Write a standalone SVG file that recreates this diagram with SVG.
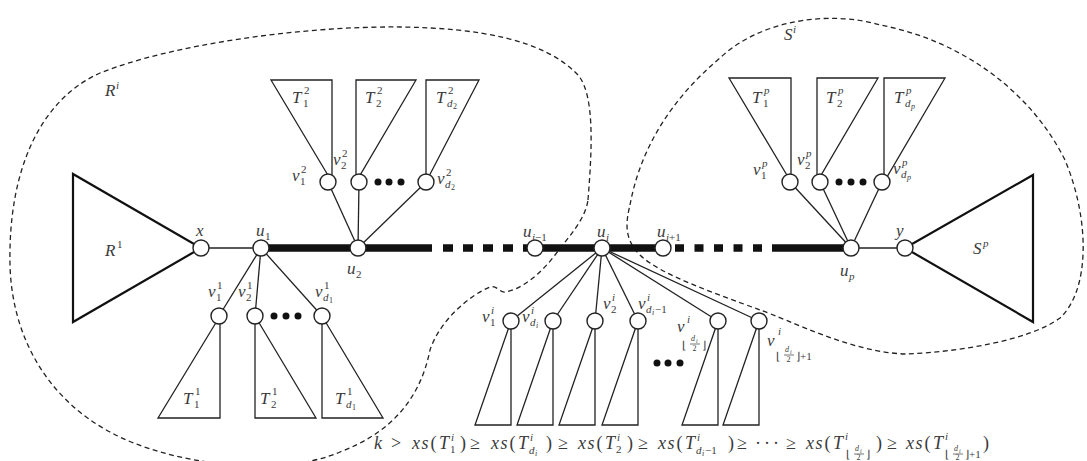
<svg xmlns="http://www.w3.org/2000/svg" width="1087" height="461" viewBox="0 0 1087 461">
<style>
.bg{fill:#fff}
.dash{fill:none;stroke:#222;stroke-width:1.3;stroke-dasharray:5 3.5}
.e{stroke:#222;stroke-width:1.3;fill:none}
.thick{stroke:#111;stroke-width:7.5;fill:none}
.sq{stroke:#111;stroke-width:7.5;fill:none}
.tri{fill:none;stroke:#222;stroke-width:1.3;stroke-linejoin:miter}
.big{fill:none;stroke:#111;stroke-width:2.2;stroke-linejoin:miter}
.nd{fill:#fff;stroke:#222;stroke-width:1.4}
.dot{fill:#111}
.lb{font-family:"Liberation Serif","Times New Roman",serif;fill:#3a3a3a;font-style:italic}
.m{font-size:17px}
.f{font-size:18px}
.s{font-size:11px}
.ss{font-size:8px}
.xs{font-size:6px}
.up{font-style:normal}
.bar{stroke:#3a3a3a;stroke-width:0.7}
</style>
<rect class="bg" x="0" y="0" width="1087" height="461"/>

<g id="regions">
<path id="region-Ri" class="dash" d="M 588,200 C 592,150 595,95 578,75 C 545,40 480,28 400,27 C 300,26 170,45 100,73 C 40,100 8,170 10,265 C 12,340 50,400 110,432 C 170,465 280,478 340,452 C 390,433 420,400 430,350 C 440,320 470,295 490,287 C 497,285 500,293 505,292 C 520,290 540,275 555,255 C 570,235 585,220 588,200 Z"/>
<path id="region-Si" class="dash" d="M 630,205 C 640,150 670,100 720,58 C 760,20 830,10 880,25 C 960,40 1030,90 1065,160 C 1090,220 1090,290 1060,318 C 1030,340 960,352 905,354 C 850,352 790,320 760,310 C 720,295 660,275 640,255 C 625,240 625,225 630,205 Z"/>
<text class="lb m" x="105" y="96">R<tspan class="s" x="116" y="89">i</tspan></text>
<text class="lb m" x="784" y="40">S<tspan class="s" x="793" y="33">i</tspan></text>
</g>

<g id="connectors">
<line class="e" x1="201" y1="248" x2="261" y2="248"/>
<line class="e" x1="851" y1="248" x2="905" y2="248"/>
<line class="thick" x1="261" y1="248" x2="432" y2="248"/>
<line class="sq" x1="443" y1="248" x2="535" y2="248" stroke-dasharray="10 10"/>
<line class="thick" x1="535" y1="248" x2="663" y2="248"/>
<line class="sq" x1="675" y1="248" x2="763" y2="248" stroke-dasharray="9 10.5"/>
<line class="thick" x1="772" y1="248" x2="851" y2="248"/>
<line class="e" x1="261" y1="248" x2="219" y2="316"/>
<line class="e" x1="261" y1="248" x2="255" y2="316"/>
<line class="e" x1="261" y1="248" x2="322" y2="316"/>
<line class="e" x1="358" y1="248" x2="328" y2="182"/>
<line class="e" x1="358" y1="248" x2="359" y2="182"/>
<line class="e" x1="358" y1="248" x2="426" y2="182"/>
<line class="e" x1="851" y1="248" x2="790" y2="182"/>
<line class="e" x1="851" y1="248" x2="820" y2="182"/>
<line class="e" x1="851" y1="248" x2="882" y2="182"/>
<line class="e" x1="602" y1="248" x2="511" y2="321"/>
<line class="e" x1="602" y1="248" x2="553" y2="321"/>
<line class="e" x1="602" y1="248" x2="595" y2="321"/>
<line class="e" x1="602" y1="248" x2="638" y2="321"/>
<line class="e" x1="602" y1="248" x2="718" y2="321"/>
<line class="e" x1="602" y1="248" x2="759" y2="321"/>
</g>

<g id="R1">
<polygon class="big" points="73,174 73,322 201,248"/>
<text class="lb m" x="105" y="256">R<tspan class="s up" x="117" y="248">1</tspan></text>
</g>
<g id="Sp">
<polygon class="big" points="1033,175 1033,322 905,248"/>
<text class="lb m" x="973" y="254">S<tspan class="s" x="983" y="247">p</tspan></text>
</g>

<g id="subtrees">
<polygon class="tri" points="220,316 220,418 158,418"/>
<polygon class="tri" points="255,316 255,418 316,418"/>
<polygon class="tri" points="322,316 322,418 383,418"/>
<polygon class="tri" points="332,182 332,80 271,80"/>
<polygon class="tri" points="356,182 356,80 416,80"/>
<polygon class="tri" points="426,182 426,80 479,80"/>
<polygon class="tri" points="791,182 791,78 729,78"/>
<polygon class="tri" points="817,182 817,78 878,78"/>
<polygon class="tri" points="884,182 884,78 945,78"/>
<polygon class="tri" points="511,321 511,425 475,425"/>
<polygon class="tri" points="553,321 553,425 517,425"/>
<polygon class="tri" points="595,321 595,425 559,425"/>
<polygon class="tri" points="638,321 638,425 602,425"/>
<polygon class="tri" points="718,321 718,425 682,425"/>
<polygon class="tri" points="759,321 759,425 723,425"/>
<text class="lb m" x="183" y="404">T<tspan class="s up" x="195" y="395">1</tspan><tspan class="s up" x="194" y="408">1</tspan></text>
<text class="lb m" x="260" y="404">T<tspan class="s up" x="272" y="395">1</tspan><tspan class="s up" x="271" y="408">2</tspan></text>
<text class="lb m" x="335" y="404">T<tspan class="s up" x="347" y="395">1</tspan><tspan class="s" x="346" y="408">d</tspan><tspan class="ss up" x="352" y="410">1</tspan></text>
<text class="lb m" x="292" y="103">T<tspan class="s up" x="304" y="94">2</tspan><tspan class="s up" x="303" y="107">1</tspan></text>
<text class="lb m" x="365" y="103">T<tspan class="s up" x="377" y="94">2</tspan><tspan class="s up" x="376" y="107">2</tspan></text>
<text class="lb m" x="436" y="103">T<tspan class="s up" x="448" y="94">2</tspan><tspan class="s" x="447" y="107">d</tspan><tspan class="ss up" x="453" y="109">2</tspan></text>
<text class="lb m" x="752" y="103">T<tspan class="s" x="764" y="94">p</tspan><tspan class="s up" x="763" y="107">1</tspan></text>
<text class="lb m" x="826" y="103">T<tspan class="s" x="838" y="94">p</tspan><tspan class="s up" x="837" y="107">2</tspan></text>
<text class="lb m" x="894" y="103">T<tspan class="s" x="906" y="94">p</tspan><tspan class="s" x="905" y="107">d</tspan><tspan class="ss" x="911" y="109">p</tspan></text>
</g>

<g id="dots">
<circle class="dot" cx="274" cy="316" r="3.5"/><circle class="dot" cx="286" cy="316" r="3.5"/><circle class="dot" cx="298" cy="316" r="3.5"/>
<circle class="dot" cx="378" cy="182" r="3.5"/><circle class="dot" cx="389" cy="182" r="3.5"/><circle class="dot" cx="401" cy="182" r="3.5"/>
<circle class="dot" cx="839" cy="182" r="3.5"/><circle class="dot" cx="851" cy="182" r="3.5"/><circle class="dot" cx="863" cy="182" r="3.5"/>
<circle class="dot" cx="657" cy="363" r="3.5"/><circle class="dot" cx="668" cy="363" r="3.5"/><circle class="dot" cx="680" cy="363" r="3.5"/>
</g>

<g id="node-x"><circle class="nd" cx="201" cy="248" r="8"/><text class="lb m" x="196" y="236">x</text></g>
<g id="node-u1"><circle class="nd" cx="261" cy="248" r="8"/><text class="lb m" x="256" y="236">u<tspan class="s up" x="265" y="240">1</tspan></text></g>
<g id="node-u2"><circle class="nd" cx="358" cy="248" r="8"/><text class="lb m" x="347" y="274">u<tspan class="s up" x="356" y="278">2</tspan></text></g>
<g id="node-ui-1"><circle class="nd" cx="535" cy="248" r="8"/><text class="lb m" x="523" y="237">u<tspan class="s" x="532" y="241">i</tspan><tspan class="s up">−1</tspan></text></g>
<g id="node-ui"><circle class="nd" cx="602" cy="248" r="8"/><text class="lb m" x="597" y="237">u<tspan class="s" x="606" y="241">i</tspan></text></g>
<g id="node-ui+1"><circle class="nd" cx="663" cy="248" r="8"/><text class="lb m" x="657" y="237">u<tspan class="s" x="666" y="241">i</tspan><tspan class="s up">+1</tspan></text></g>
<g id="node-up"><circle class="nd" cx="851" cy="248" r="8"/><text class="lb m" x="840" y="276">u<tspan class="s" x="849" y="280">p</tspan></text></g>
<g id="node-y"><circle class="nd" cx="905" cy="248" r="8"/><text class="lb m" x="896" y="236">y</text></g>

<g id="node-v11"><circle class="nd" cx="219" cy="316" r="8"/><text class="lb m" x="208" y="297">v<tspan class="s up" x="217" y="289">1</tspan><tspan class="s up" x="216" y="301">1</tspan></text></g>
<g id="node-v21"><circle class="nd" cx="255" cy="316" r="8"/><text class="lb m" x="238" y="297">v<tspan class="s up" x="247" y="289">1</tspan><tspan class="s up" x="246" y="301">2</tspan></text></g>
<g id="node-vd1"><circle class="nd" cx="322" cy="316" r="8"/><text class="lb m" x="315" y="297">v<tspan class="s up" x="324" y="289">1</tspan><tspan class="s" x="323" y="301">d</tspan><tspan class="ss up" x="329" y="303">1</tspan></text></g>

<g id="node-v12"><circle class="nd" cx="328" cy="182" r="8"/><text class="lb m" x="292" y="181">v<tspan class="s up" x="301" y="173">2</tspan><tspan class="s up" x="300" y="185">1</tspan></text></g>
<g id="node-v22"><circle class="nd" cx="359" cy="182" r="8"/><text class="lb m" x="333" y="165">v<tspan class="s up" x="342" y="157">2</tspan><tspan class="s up" x="341" y="169">2</tspan></text></g>
<g id="node-vd2"><circle class="nd" cx="426" cy="182" r="8"/><text class="lb m" x="437" y="184">v<tspan class="s up" x="446" y="176">2</tspan><tspan class="s" x="445" y="188">d</tspan><tspan class="ss up" x="451" y="190">2</tspan></text></g>

<g id="node-v1p"><circle class="nd" cx="790" cy="182" r="8"/><text class="lb m" x="753" y="175">v<tspan class="s" x="762" y="167">p</tspan><tspan class="s up" x="761" y="179">1</tspan></text></g>
<g id="node-v2p"><circle class="nd" cx="820" cy="182" r="8"/><text class="lb m" x="797" y="165">v<tspan class="s" x="806" y="157">p</tspan><tspan class="s up" x="805" y="169">2</tspan></text></g>
<g id="node-vdp"><circle class="nd" cx="882" cy="182" r="8"/><text class="lb m" x="893" y="174">v<tspan class="s" x="902" y="166">p</tspan><tspan class="s" x="901" y="178">d</tspan><tspan class="ss" x="907" y="180">p</tspan></text></g>

<g id="node-v1i"><circle class="nd" cx="511" cy="321" r="8"/><text class="lb m" x="482" y="322">v<tspan class="s" x="491" y="314">i</tspan><tspan class="s up" x="490" y="326">1</tspan></text></g>
<g id="node-vdi"><circle class="nd" cx="553" cy="321" r="8"/><text class="lb m" x="522" y="322">v<tspan class="s" x="531" y="314">i</tspan><tspan class="s" x="530" y="326">d</tspan><tspan class="ss" x="536" y="328">i</tspan></text></g>
<g id="node-v2i"><circle class="nd" cx="595" cy="321" r="8"/><text class="lb m" x="603" y="309">v<tspan class="s" x="612" y="301">i</tspan><tspan class="s up" x="611" y="313">2</tspan></text></g>
<g id="node-vdi-1"><circle class="nd" cx="638" cy="321" r="8"/><text class="lb m" x="638" y="309">v<tspan class="s" x="647" y="301">i</tspan><tspan class="s" x="646" y="313">d</tspan><tspan class="ss" x="652" y="315">i</tspan><tspan class="s up" x="655" y="313">−1</tspan></text></g>
<g id="node-vfl"><circle class="nd" cx="718" cy="321" r="8"/>
<text class="lb m" x="677" y="332">v<tspan class="s" x="687" y="323">i</tspan><tspan class="s up" x="682" y="349">⌊</tspan><tspan class="ss" x="691" y="341">d</tspan><tspan class="xs" x="696" y="343">i</tspan><tspan class="ss up" x="692.5" y="350.5">2</tspan><tspan class="s up" x="702" y="349">⌋</tspan></text>
<line class="bar" x1="690" y1="344" x2="700" y2="344"/></g>
<g id="node-vfl1"><circle class="nd" cx="759" cy="321" r="8"/>
<text class="lb m" x="767" y="346">v<tspan class="s" x="778" y="335">i</tspan><tspan class="s up" x="776" y="360">⌊</tspan><tspan class="ss" x="785" y="352">d</tspan><tspan class="xs" x="790" y="354">i</tspan><tspan class="ss up" x="786.5" y="361.5">2</tspan><tspan class="s up" x="796" y="360">⌋+1</tspan></text>
<line class="bar" x1="784" y1="355" x2="794" y2="355"/></g>

<g id="formula">
<text class="lb f" x="374" y="449">k<tspan class="up" x="391">&gt;</tspan>
<tspan x="412">x</tspan><tspan x="421.5">s</tspan><tspan class="up" x="430.5">(</tspan><tspan x="439">T</tspan><tspan class="s" x="451" y="441">i</tspan><tspan class="s up" x="450" y="453">1</tspan><tspan class="up" x="460" y="449">)</tspan>
<tspan class="up" x="470">≥</tspan>
<tspan x="491">x</tspan><tspan x="500.5">s</tspan><tspan class="up" x="509.5">(</tspan><tspan x="518">T</tspan><tspan class="s" x="530" y="441">i</tspan><tspan class="s" x="529" y="454">d</tspan><tspan class="ss" x="535" y="456">i</tspan><tspan class="up" x="546" y="449">)</tspan>
<tspan class="up" x="558">≥</tspan>
<tspan x="578">x</tspan><tspan x="587.5">s</tspan><tspan class="up" x="596.5">(</tspan><tspan x="605">T</tspan><tspan class="s" x="617" y="441">i</tspan><tspan class="s up" x="616" y="453">2</tspan><tspan class="up" x="627" y="449">)</tspan>
<tspan class="up" x="638">≥</tspan>
<tspan x="658">x</tspan><tspan x="667.5">s</tspan><tspan class="up" x="676.5">(</tspan><tspan x="685">T</tspan><tspan class="s" x="697" y="441">i</tspan><tspan class="s" x="696" y="454">d</tspan><tspan class="ss" x="702" y="456">i</tspan><tspan class="s up" x="705" y="454">−1</tspan><tspan class="up" x="728" y="449">)</tspan>
<tspan class="up" x="737">≥</tspan>
<tspan class="up" x="755">·</tspan><tspan class="up" x="764">·</tspan><tspan class="up" x="773">·</tspan>
<tspan class="up" x="786">≥</tspan>
<tspan x="806">x</tspan><tspan x="815.5">s</tspan><tspan class="up" x="824.5">(</tspan><tspan x="833">T</tspan><tspan class="s" x="845" y="440">i</tspan><tspan class="s up" x="846" y="458">⌊</tspan><tspan class="ss" x="855" y="451">d</tspan><tspan class="xs" x="860" y="453">i</tspan><tspan class="ss up" x="856.5" y="460">2</tspan><tspan class="s up" x="866" y="458">⌋</tspan><tspan class="up" x="876" y="449">)</tspan>
<tspan class="up" x="887">≥</tspan>
<tspan x="906">x</tspan><tspan x="915.5">s</tspan><tspan class="up" x="924.5">(</tspan><tspan x="933">T</tspan><tspan class="s" x="945" y="440">i</tspan><tspan class="s up" x="945" y="458">⌊</tspan><tspan class="ss" x="954" y="451">d</tspan><tspan class="xs" x="959" y="453">i</tspan><tspan class="ss up" x="955.5" y="460">2</tspan><tspan class="s up" x="965" y="458">⌋+1</tspan><tspan class="up" x="983" y="449">)</tspan></text>
<line class="bar" x1="854" y1="454" x2="864" y2="454"/>
<line class="bar" x1="953" y1="454" x2="963" y2="454"/>
</g>
</svg>
